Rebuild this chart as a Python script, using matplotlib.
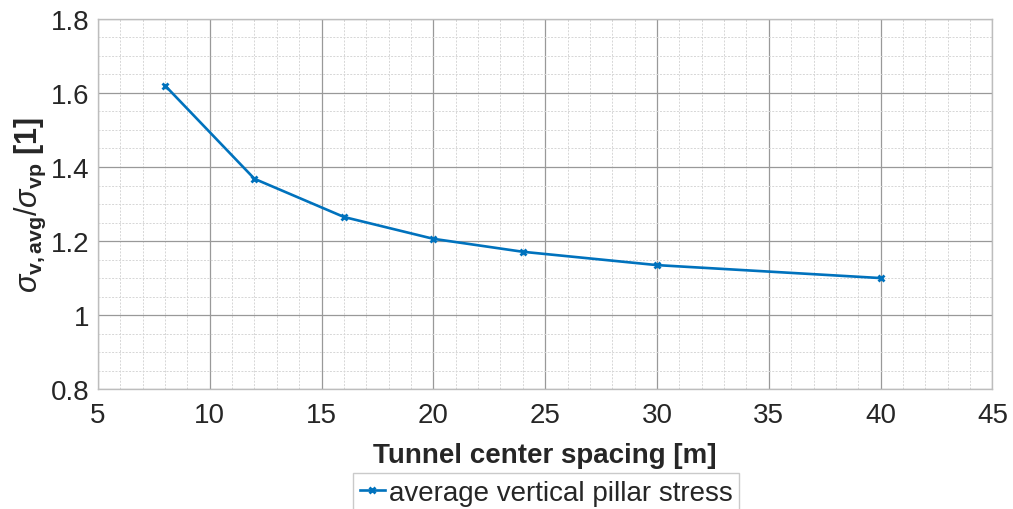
import matplotlib
matplotlib.use("Agg")
import matplotlib.pyplot as plt
from matplotlib.ticker import MultipleLocator

plt.rcParams['font.family'] = ['Liberation Sans', 'DejaVu Sans']
plt.rcParams['mathtext.fontset'] = 'custom'
plt.rcParams['mathtext.rm'] = 'Liberation Sans'
plt.rcParams['mathtext.it'] = 'Liberation Sans:italic'
plt.rcParams['mathtext.bf'] = 'Liberation Sans:bold'

spacing = [8, 12, 16, 20, 24, 30, 40]
stress_ratio = [1.62, 1.368, 1.265, 1.206, 1.171, 1.135, 1.10]
series_label = 'average vertical pillar stress'

fig = plt.figure(figsize=(10.13, 5.10), dpi=100)
ax = fig.add_axes([0.0967, 0.235, 0.883, 0.726])

line_color = '#0072BD'
ax.plot(spacing, stress_ratio, color=line_color, lw=1.9, marker='x',
        ms=5, mew=2, label=series_label)

ax.set_xlim(5, 45)
ax.set_ylim(0.8, 1.8)
ax.xaxis.set_major_locator(MultipleLocator(5))
ax.xaxis.set_minor_locator(MultipleLocator(1))
ax.yaxis.set_minor_locator(MultipleLocator(0.05))
ax.set_yticks([0.8, 1.0, 1.2, 1.4, 1.6, 1.8])
ax.set_yticklabels(['0.8', '1', '1.2', '1.4', '1.6', '1.8'])

ax.grid(which='major', color='#999999', lw=0.9)
ax.grid(which='minor', color='#d6d6d6', lw=0.7, ls=(0, (2, 1.5)))
ax.set_axisbelow(True)
for s in ax.spines.values():
    s.set_color('#bdbdbd')
    s.set_linewidth(1.0)
ax.tick_params(axis='x', which='both', length=0, labelsize=20, labelcolor='#262626', pad=9)
ax.tick_params(axis='y', which='both', length=0, labelsize=20, labelcolor='#262626', pad=6)

ax.set_xlabel('Tunnel center spacing [m]', fontsize=20, fontweight='bold',
              color='#262626', labelpad=10)
ax.set_ylabel(r'$\sigma_{\mathbf{v,avg}}/\sigma_{\mathbf{vp}}$ [1]', fontsize=22,
              fontweight='bold', color='#262626', labelpad=2)

leg = fig.legend(loc='upper center', bbox_to_anchor=(0.539, 0.071), fontsize=20,
                 frameon=True, fancybox=False, edgecolor='#bdbdbd',
                 handlelength=0.9, handletextpad=0.15, borderpad=0.25,
                 borderaxespad=0)
for t in leg.get_texts():
    t.set_color('#262626')

fig.savefig('out.png', dpi=100)
